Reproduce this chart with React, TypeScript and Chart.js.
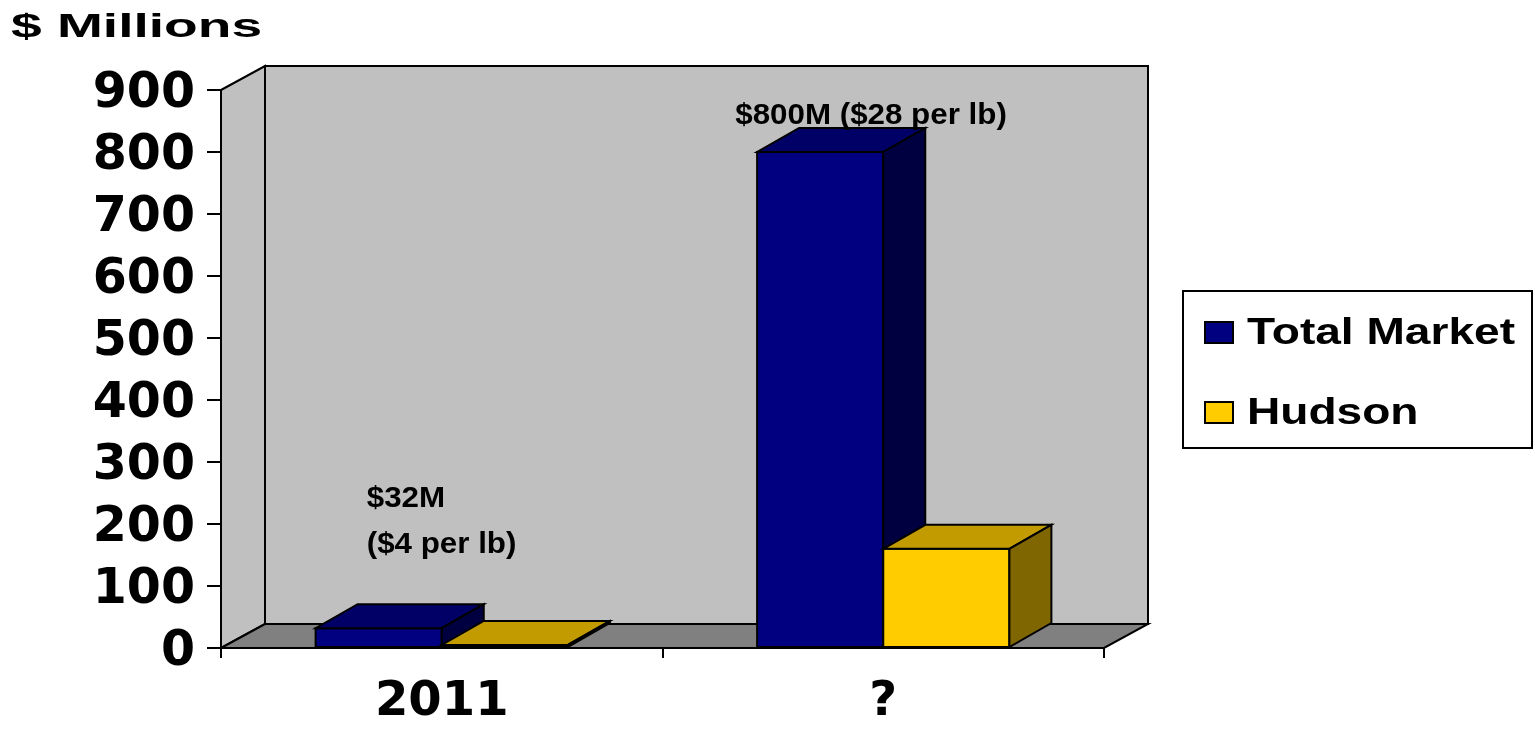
import React, { useEffect, useRef } from 'react';
import { Chart, registerables } from 'chart.js';

Chart.register(...registerables);

// ---------- data ----------
const categories = ['2011', '?'];
const seriesNames = ['Total Market', 'Hudson'];
const totalMarket = [32, 800];
const hudson = [5, 160];
const yMin = 0;
const yMax = 900;
const yStep = 100;
const axisTitle = '$ Millions';
const annotationTexts = ['$32M', '($4 per lb)', '$800M ($28 per lb)'];
const annotationCategory = [0, 0, 1];
const annotationValue = [227, 153, 845];

// ---------- styles ----------
const W = 1535;
const H = 730;
const frontColors = ['#000080', '#FFCC00'];
const topColors = ['#000066', '#C29B00'];
const sideColors = ['#000040', '#806600'];
const WALL = '#C0C0C0';
const FLOOR = '#808080';
const WALL_DX = 44;
const WALL_DY = -24;
const BAR_DX = 42;
const BAR_DY = -24;
const annotationDx = [-75, -75, -148];
const TEXT_FONT = '"Liberation Sans", Arial, sans-serif';
const TICK_FONT = '"DejaVu Sans", sans-serif';

function poly(ctx: CanvasRenderingContext2D, pts: number[][], fill: string) {
  ctx.beginPath();
  ctx.moveTo(pts[0][0], pts[0][1]);
  for (let i = 1; i < pts.length; i++) ctx.lineTo(pts[i][0], pts[i][1]);
  ctx.closePath();
  ctx.fillStyle = fill;
  ctx.fill();
  ctx.stroke();
}

function stretchedText(
  ctx: CanvasRenderingContext2D,
  text: string,
  x: number,
  y: number,
  size: number,
  sx: number
) {
  ctx.save();
  ctx.font = `bold ${size}px ${TEXT_FONT}`;
  ctx.fillStyle = '#000';
  ctx.textAlign = 'left';
  ctx.textBaseline = 'alphabetic';
  ctx.translate(x, y);
  ctx.scale(sx, 1);
  ctx.fillText(text, 0, 0);
  ctx.restore();
}

const wallsPlugin = {
  id: 'walls3d',
  beforeDraw(chart: any) {
    const { ctx, chartArea: a } = chart;
    ctx.save();
    ctx.lineWidth = 2;
    ctx.strokeStyle = '#000';
    ctx.lineJoin = 'miter';
    poly(
      ctx,
      [
        [a.left + WALL_DX, a.top + WALL_DY],
        [a.right + WALL_DX, a.top + WALL_DY],
        [a.right + WALL_DX, a.bottom + WALL_DY],
        [a.left + WALL_DX, a.bottom + WALL_DY],
      ],
      WALL
    );
    poly(
      ctx,
      [
        [a.left, a.top],
        [a.left + WALL_DX, a.top + WALL_DY],
        [a.left + WALL_DX, a.bottom + WALL_DY],
        [a.left, a.bottom],
      ],
      WALL
    );
    poly(
      ctx,
      [
        [a.left, a.bottom],
        [a.right, a.bottom],
        [a.right + WALL_DX, a.bottom + WALL_DY],
        [a.left + WALL_DX, a.bottom + WALL_DY],
      ],
      FLOOR
    );
    ctx.restore();
  },
};

const bars3dPlugin = {
  id: 'bars3d',
  afterDatasetsDraw(chart: any) {
    const { ctx } = chart;
    ctx.save();
    ctx.lineWidth = 2;
    ctx.strokeStyle = '#000';
    ctx.lineJoin = 'miter';
    chart.data.datasets.forEach((_ds: any, i: number) => {
      const meta = chart.getDatasetMeta(i);
      meta.data.forEach((bar: any) => {
        const { x, y, base, width } = bar.getProps(['x', 'y', 'base', 'width'], true);
        const l = x - width / 2;
        const r = x + width / 2;
        poly(
          ctx,
          [
            [l, y],
            [r, y],
            [r, base],
            [l, base],
          ],
          frontColors[i]
        );
        poly(
          ctx,
          [
            [l, y],
            [r, y],
            [r + BAR_DX, y + BAR_DY],
            [l + BAR_DX, y + BAR_DY],
          ],
          topColors[i]
        );
        poly(
          ctx,
          [
            [r, y],
            [r + BAR_DX, y + BAR_DY],
            [r + BAR_DX, base + BAR_DY],
            [r, base],
          ],
          sideColors[i]
        );
      });
    });
    ctx.restore();
  },
};

const textPlugin = {
  id: 'texts',
  afterDraw(chart: any) {
    const { ctx } = chart;
    const xs = chart.scales.x;
    const ys = chart.scales.y;
    stretchedText(ctx, axisTitle, 11, 37, 33, 1.67);
    annotationTexts.forEach((t, k) => {
      const px = xs.getPixelForValue(annotationCategory[k]) + annotationDx[k];
      const py = ys.getPixelForValue(annotationValue[k]);
      stretchedText(ctx, t, px, py, 29, 1.08);
    });
    ctx.save();
    ctx.lineWidth = 2;
    ctx.strokeStyle = '#000';
    ctx.fillStyle = '#fff';
    ctx.fillRect(1183, 291, 349, 157);
    ctx.strokeRect(1183, 291, 349, 157);
    const rows = [322, 402];
    seriesNames.forEach((name, k) => {
      ctx.fillStyle = frontColors[k];
      ctx.fillRect(1205, rows[k], 28, 21);
      ctx.strokeRect(1205, rows[k], 28, 21);
      stretchedText(ctx, name, 1247, rows[k] + 22, 36, 1.28);
    });
    ctx.restore();
  },
};

export default function App() {
  const ref = useRef<HTMLCanvasElement | null>(null);

  useEffect(() => {
    if (!ref.current) return;
    const chart = new Chart(ref.current, {
      type: 'bar',
      data: {
        labels: categories,
        datasets: [
          {
            label: seriesNames[0],
            data: totalMarket,
            backgroundColor: frontColors[0],
            borderWidth: 0,
            categoryPercentage: 0.5714,
            barPercentage: 1,
          },
          {
            label: seriesNames[1],
            data: hudson,
            backgroundColor: frontColors[1],
            borderWidth: 0,
            categoryPercentage: 0.5714,
            barPercentage: 1,
          },
        ],
      },
      options: {
        responsive: false,
        animation: false,
        devicePixelRatio: 1,
        events: [],
        layout: { padding: { top: 90, right: 431, left: 0, bottom: 0 } },
        plugins: {
          legend: { display: false },
          tooltip: { enabled: false },
          title: { display: false },
        },
        scales: {
          x: {
            offset: true,
            grid: {
              display: true,
              drawOnChartArea: false,
              drawTicks: true,
              tickLength: 10,
              color: '#000',
              lineWidth: 2,
              offset: true,
            },
            border: { display: true, color: '#000', width: 2 },
            ticks: {
              color: '#000',
              padding: 16,
              autoSkip: false,
              font: { family: TICK_FONT, weight: 'bold', size: 48 },
              maxRotation: 0,
            },
            afterFit: (s: any) => {
              s.height = 82;
            },
          },
          y: {
            min: yMin,
            max: yMax,
            grid: {
              display: true,
              drawOnChartArea: false,
              drawTicks: true,
              tickLength: 14,
              color: '#000',
              lineWidth: 2,
            },
            border: { display: true, color: '#000', width: 2 },
            ticks: {
              stepSize: yStep,
              autoSkip: false,
              color: '#000',
              padding: 12,
              labelOffset: 4,
              font: { family: TICK_FONT, weight: 'bold', size: 49 },
            },
            afterFit: (s: any) => {
              s.width = 221;
            },
          },
        },
      },
      plugins: [wallsPlugin, bars3dPlugin, textPlugin],
    } as any);
    return () => chart.destroy();
  }, []);

  return (
    <div style={{ position: 'absolute', left: 0, top: 0, width: W, height: H, background: '#fff' }}>
      <canvas ref={ref} width={W} height={H} style={{ display: 'block', width: W, height: H }} />
    </div>
  );
}
